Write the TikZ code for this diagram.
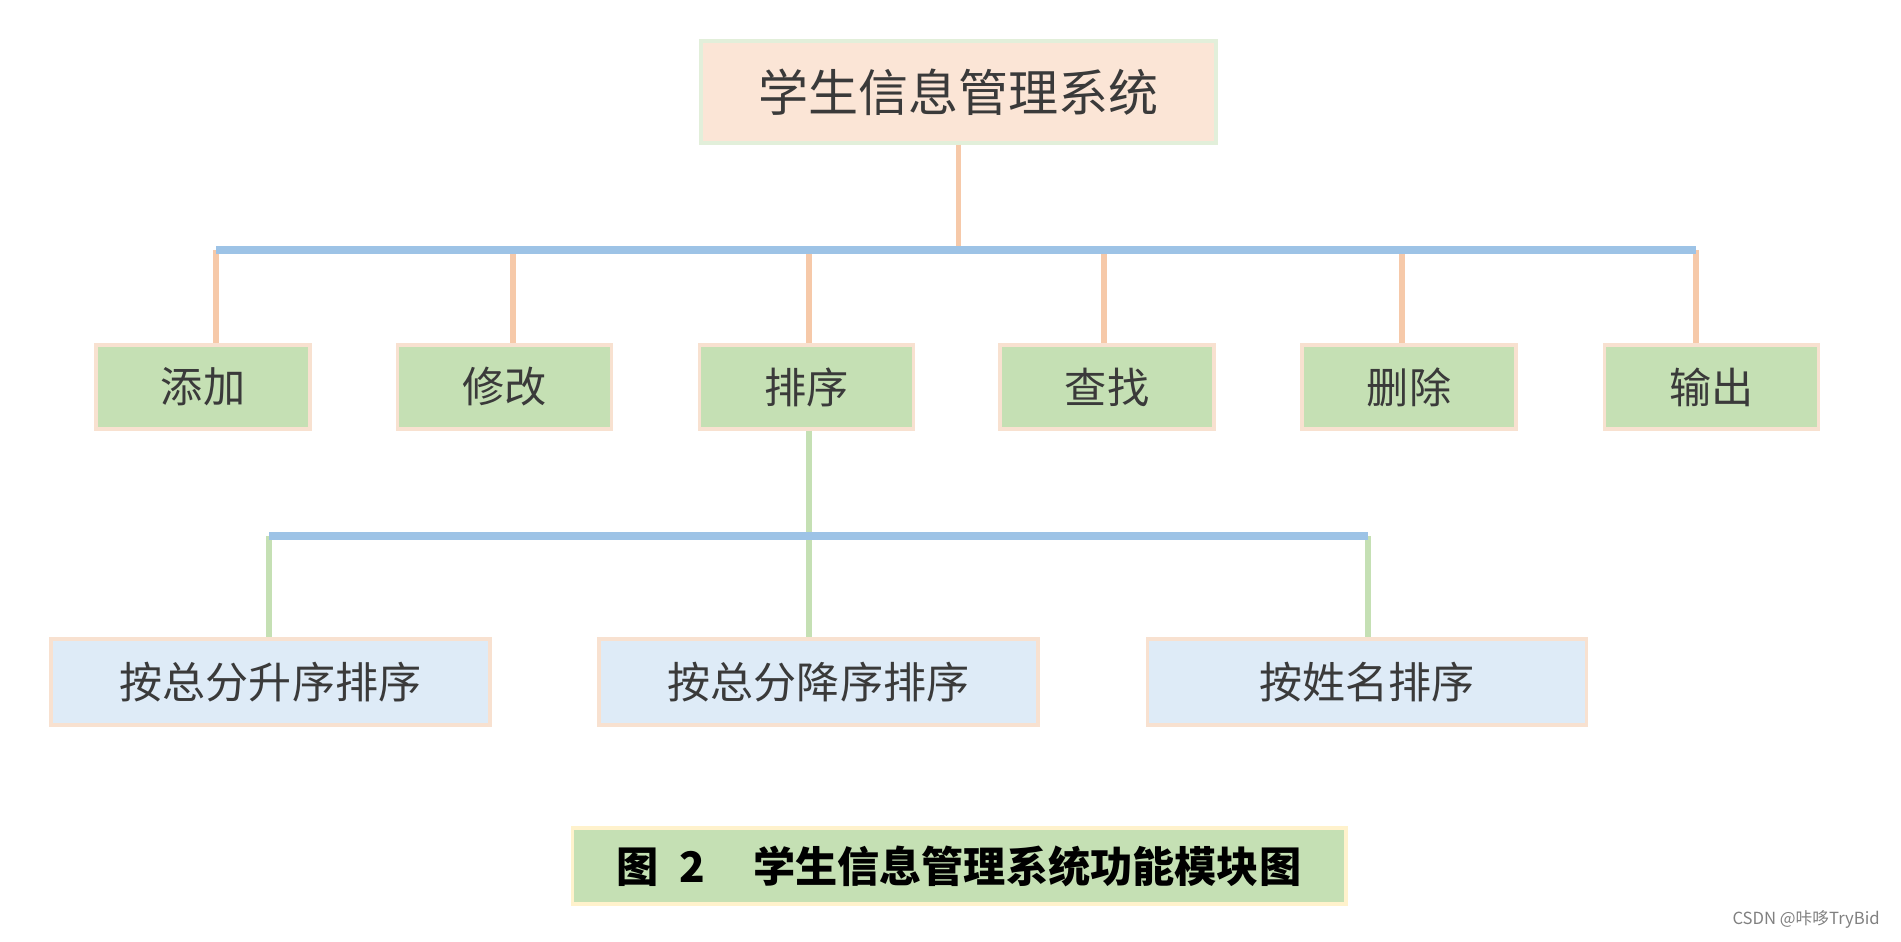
\documentclass[tikz,border=0pt]{standalone}
\usepackage{fontspec}
\setmainfont{Noto Sans CJK SC}
\usepackage{xcolor}
\usepackage{tikz}
\usetikzlibrary{positioning,calc}

\definecolor{titlefill}{HTML}{FBE5D6}
\definecolor{titleedge}{HTML}{E2EFDA}
\definecolor{busblue}{HTML}{9DC3E6}
\definecolor{droporange}{HTML}{F6C9A9}
\definecolor{modgreen}{HTML}{C5E0B4}
\definecolor{modedge}{HTML}{F8E1D0}
\definecolor{subfill}{HTML}{DEEBF7}
\definecolor{capedge}{HTML}{FFF2CC}
\definecolor{inkgray}{HTML}{3A3A3A}

\tikzset{
    title/.style={draw=titleedge, fill=titlefill, line width=1.8pt, minimum width=10.3cm, minimum height=2.04cm, inner sep=0pt, text=inkgray, font=\fontsize{28.5}{30}\selectfont},
    module/.style={draw=modedge, fill=modgreen, line width=1.8pt, minimum width=4.28cm, minimum height=1.68cm, inner sep=0pt, text=inkgray, font=\fontsize{24}{26}\selectfont},
    submodule/.style={draw=modedge, fill=subfill, line width=1.8pt, minimum width=8.78cm, minimum height=1.72cm, inner sep=0pt, text=inkgray, font=\fontsize{24.5}{26}\selectfont},
    caption/.style={draw=capedge, fill=modgreen, line width=1.8pt, minimum width=15.48cm, minimum height=1.52cm, inner sep=0pt, text=black, font=\bfseries\fontsize{24}{26}\selectfont},
    bus/.style={busblue, line width=4pt},
    drop/.style={droporange, line width=3.4pt},
    subdrop/.style={modgreen, line width=3.4pt}
}

\begin{document}
\begin{tikzpicture}[x=0.02cm, y=-0.02cm]
    \useasboundingbox (0,0) rectangle (1901,941);

    % top
    \node[title] (sys) at (958.5,92) {学生信息管理系统};

    % modules
    \node[module] (add)  at (203,387)  {添加};
    \node[module] (edit) at (504.5,387) {修改};
    \node[module] (sort) at (806.5,387) {排序};
    \node[module] (find) at (1107,387) {查找};
    \node[module] (del)  at (1409,387) {删除};
    \node[module] (out)  at (1711.5,387) {输出};

    % sort variants
    \node[submodule] (asc)  at (270.5,682) {按总分升序排序};
    \node[submodule] (desc) at (818.5,682) {按总分降序排序};
    \node[submodule] (name) at (1367,682)  {按姓名排序};

    \node[caption] (cap) at (959,866) {图\enspace 2\quad\hspace{3pt}学生信息管理系统功能模块图};

    % first level connectors
    \coordinate (b1) at (216,250);
    \coordinate (b2) at (513,250);
    \coordinate (b3) at (809,250);
    \coordinate (b4) at (1104,250);
    \coordinate (b5) at (1402,250);
    \coordinate (b6) at (1696,250);
    \draw[drop] (sys.south) -- (sys.south |- b1);
    \foreach \b/\n in {b1/add, b2/edit, b3/sort, b4/find, b5/del, b6/out}
        \draw[drop] (\b) -- (\b |- \n.north);
    \draw[bus] (b1) -- (b6);

    % second level connectors
    \coordinate (c1) at (269,536);
    \coordinate (c2) at (809,536);
    \coordinate (c3) at (1368,536);
    \draw[subdrop] (sort.south -| c2) -- (c2);
    \foreach \c/\n in {c1/asc, c2/desc, c3/name}
        \draw[subdrop] (\c) -- (\c |- \n.north);
    \draw[bus] (c1) -- (c3);

    % watermark
    \node[text=gray, font=\fontsize{9.5}{10}\selectfont, anchor=east] (mark) at (1886,919) {CSDN @咔哆TryBid};
\end{tikzpicture}
\end{document}
